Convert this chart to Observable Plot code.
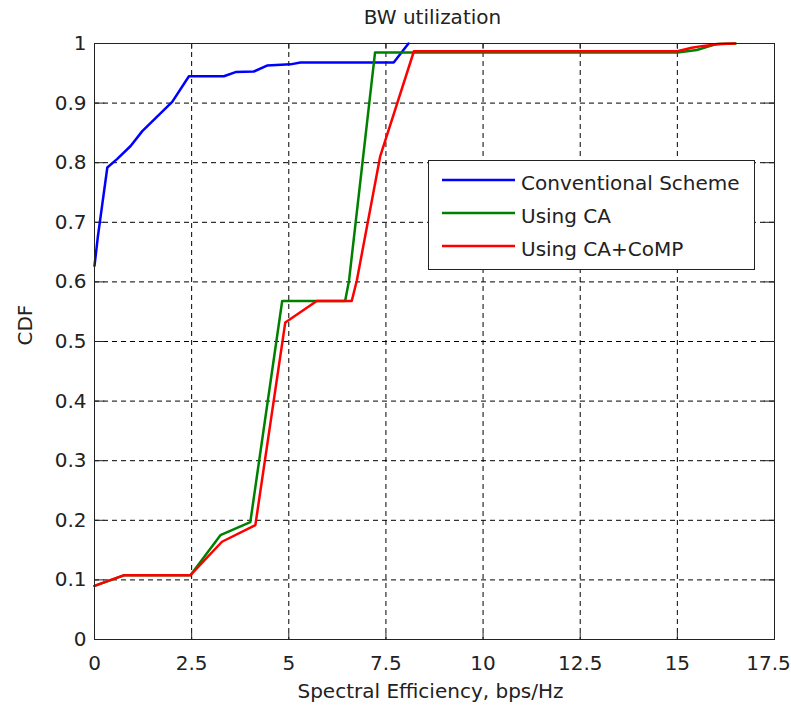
<!DOCTYPE html>
<html><head><meta charset="utf-8">
<script src="https://cdn.jsdelivr.net/npm/d3@7"></script>
<script src="https://cdn.jsdelivr.net/npm/@observablehq/plot@0.6"></script>
<style>body{margin:0;background:#fff;}</style>
</head><body><div id="chart"></div>
<script>
const title = "BW utilization";
const xLabel = "Spectral Efficiency, bps/Hz";
const yLabel = "CDF";
const xDomain = [0, 17.5];
const yDomain = [0, 1];
const xTicks = [0, 2.5, 5, 7.5, 10, 12.5, 15, 17.5];
const yTicks = [0, 0.1, 0.2, 0.3, 0.4, 0.5, 0.6, 0.7, 0.8, 0.9, 1];
const seriesNames = ["Conventional Scheme", "Using CA", "Using CA+CoMP"];
const seriesColors = ["#0000ff", "#008000", "#ff0000"];

const convX = [0, 0.085, 0.2, 0.33, 0.58, 0.93, 1.23, 2.0, 2.43, 3.33, 3.63, 4.1, 4.44, 5.04, 5.3, 7.7, 8.08];
const convY = [0.627, 0.675, 0.73, 0.792, 0.806, 0.828, 0.853, 0.902, 0.945, 0.945, 0.952, 0.953, 0.963, 0.965, 0.968, 0.968, 1.0];

const caX = [0, 0.78, 2.47, 3.24, 4.01, 4.83, 5.72, 6.45, 6.55, 7.22, 15.0, 15.5, 16.0, 16.5];
const caY = [0.09, 0.108, 0.108, 0.175, 0.197, 0.568, 0.568, 0.568, 0.602, 0.985, 0.985, 0.989, 0.999, 1.0];

const compX = [0, 0.76, 2.47, 3.28, 4.14, 4.91, 5.72, 6.62, 6.75, 7.35, 8.22, 15.0, 15.37, 15.67, 16.1, 16.48];
const compY = [0.09, 0.108, 0.108, 0.164, 0.192, 0.532, 0.568, 0.568, 0.602, 0.81, 0.987, 0.987, 0.993, 0.996, 0.999, 1.0];

const seriesX = [convX, caX, compX];
const seriesY = [convY, caY, compY];
const rows = [];
seriesNames.forEach((name, i) => {
  seriesX[i].forEach((x, j) => rows.push({series: name, x, y: seriesY[i][j]}));
});

const ink = "#222";
const fmt = d => String(d);
const tickLenX = (xDomain[1] - xDomain[0]) * 0.0085;
const tickLenY = (yDomain[1] - yDomain[0]) * 0.01;
const xTicksInner = xTicks.slice(0, -1);
const xTickLast = xTicks.slice(-1);

const chart = Plot.plot({
  width: 791, height: 709,
  marginLeft: 94, marginRight: 17, marginTop: 43, marginBottom: 70,
  style: {fontFamily: "DejaVu Sans", fontSize: "20px", color: ink, background: "white"},
  x: {domain: xDomain, label: null},
  y: {domain: yDomain, label: null},
  color: {domain: seriesNames, range: seriesColors},
  marks: [
    Plot.gridX(xTicks, {stroke: "#000", strokeOpacity: 1, strokeDasharray: "5,4"}),
    Plot.gridY(yTicks, {stroke: "#000", strokeOpacity: 1, strokeDasharray: "5,4"}),
    Plot.ruleX(xTicks, {x: d => d, y1: yDomain[0], y2: yDomain[0] + tickLenY, stroke: ink}),
    Plot.ruleX(xTicks, {x: d => d, y1: yDomain[1], y2: yDomain[1] - tickLenY, stroke: ink}),
    Plot.ruleY(yTicks, {y: d => d, x1: xDomain[0], x2: xDomain[0] + tickLenX * 1.8, stroke: ink}),
    Plot.ruleY(yTicks, {y: d => d, x1: xDomain[1], x2: xDomain[1] - tickLenX * 1.8, stroke: ink}),
    Plot.line(rows, {x: "x", y: "y", z: "series", stroke: "series", strokeWidth: 2.5}),
    Plot.frame({stroke: ink}),
    Plot.axisX(xTicksInner, {tickSize: 0, tickPadding: 16, tickFormat: fmt, fontSize: 20, label: null}),
    Plot.axisX(xTickLast, {tickSize: 0, tickPadding: 16, tickFormat: fmt, fontSize: 20, label: null, dx: -6}),
    Plot.axisY(yTicks, {tickSize: 0, tickPadding: 8, tickFormat: fmt, fontSize: 20, label: null}),
    Plot.text([title], {text: d => d, frameAnchor: "top", dy: -26, dx: -2, lineAnchor: "middle", fontSize: 20, fill: ink}),
    Plot.text([xLabel], {text: d => d, frameAnchor: "bottom", dy: 52, dx: -4, lineAnchor: "middle", fontSize: 20, fill: ink}),
    Plot.text([yLabel], {text: d => d, frameAnchor: "left", dx: -69, dy: 4, rotate: -90, lineAnchor: "middle", fontSize: 20, fill: ink})
  ]
});
document.getElementById("chart").appendChild(chart);

// legend box
const svg = d3.select(chart.tagName.toLowerCase() === "svg" ? chart : chart.querySelector("svg"));
const lg = svg.append("g").attr("font-family", "DejaVu Sans").attr("font-size", 20).attr("text-anchor", "start");
lg.append("rect").attr("x", 428.5).attr("y", 160.5).attr("width", 326).attr("height", 109)
  .attr("fill", "white").attr("stroke", ink);
seriesNames.forEach((name, i) => {
  const yy = 180 + i * 33;
  lg.append("line").attr("x1", 442).attr("x2", 515).attr("y1", yy).attr("y2", yy)
    .attr("stroke", seriesColors[i]).attr("stroke-width", 2.5);
  lg.append("text").attr("x", 521).attr("y", yy + 10).attr("fill", ink)
    .attr("text-anchor", "start").text(name);
});
</script>
</body></html>
